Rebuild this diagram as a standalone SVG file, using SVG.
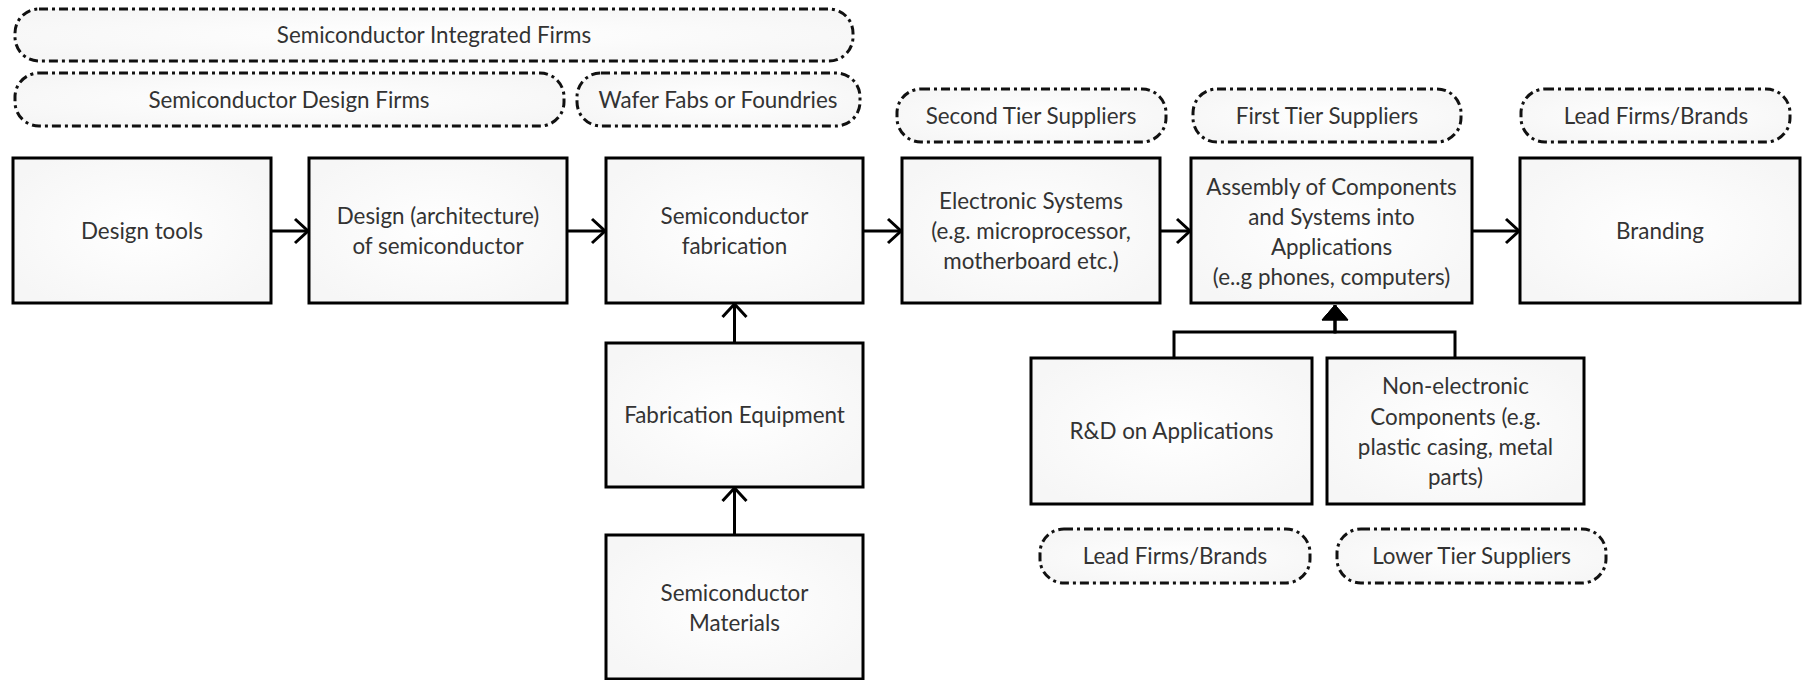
<svg xmlns="http://www.w3.org/2000/svg" width="1807" height="680" viewBox="0 0 1807 680">
<defs>
<radialGradient id="bg" cx="50%" cy="50%" r="60%">
<stop offset="0" stop-color="#ffffff"/>
<stop offset="1" stop-color="#f6f6f6"/>
</radialGradient>
<marker id="open" markerUnits="userSpaceOnUse" viewBox="-16 -14 18 28" markerWidth="18" markerHeight="28" refX="0" refY="0" orient="auto">
<path d="M-13,-12 L0,0 L-13,12" fill="none" stroke="#000" stroke-width="3"/>
</marker>
<marker id="fill" markerUnits="userSpaceOnUse" viewBox="-16 -14 18 28" markerWidth="18" markerHeight="28" refX="0" refY="0" orient="auto">
<path d="M-15,-13 L0,0 L-15,13 Z" fill="#000" stroke="#000" stroke-width="1"/>
</marker>
<style>
.box{fill:url(#bg);stroke:#000;stroke-width:3}
.pill{fill:url(#bg);stroke:#111;stroke-width:3;stroke-dasharray:9 4 3 4}
.t{font-family:Lato,"Liberation Sans",sans-serif;font-size:22.4px;fill:#333;text-anchor:middle}
.c{fill:none;stroke:#000;stroke-width:3}
</style>
</defs>
<rect width="1807" height="680" fill="#fff"/>

<g id="pill-integrated"><rect class="pill" x="15" y="9" width="838" height="52" rx="24"/><text class="t" x="434" y="43">Semiconductor Integrated Firms</text></g>
<g id="pill-design-firms"><rect class="pill" x="15" y="73" width="549" height="53" rx="24"/><text class="t" x="289" y="108">Semiconductor Design Firms</text></g>
<g id="pill-wafer"><rect class="pill" x="577" y="73" width="283" height="53" rx="24"/><text class="t" x="718" y="108">Wafer Fabs or Foundries</text></g>
<g id="pill-second-tier"><rect class="pill" x="897" y="89" width="269" height="53" rx="24"/><text class="t" x="1031" y="124">Second Tier Suppliers</text></g>
<g id="pill-first-tier"><rect class="pill" x="1193" y="89" width="268" height="53" rx="24"/><text class="t" x="1327" y="124">First Tier Suppliers</text></g>
<g id="pill-lead-top"><rect class="pill" x="1521" y="89" width="269" height="53" rx="24"/><text class="t" x="1656" y="124">Lead Firms/Brands</text></g>

<g id="design-tools"><rect class="box" x="13" y="158" width="258" height="145"/><text class="t" x="142" y="239">Design tools</text></g>
<g id="design-arch"><rect class="box" x="309" y="158" width="258" height="145"/><text class="t" x="438" y="224">Design (architecture)</text><text class="t" x="438" y="254">of semiconductor</text></g>
<g id="fabrication"><rect class="box" x="606" y="158" width="257" height="145"/><text class="t" x="734.5" y="224">Semiconductor</text><text class="t" x="734.5" y="254">fabrication</text></g>
<g id="electronic"><rect class="box" x="902" y="158" width="258" height="145"/><text class="t" x="1031" y="209">Electronic Systems</text><text class="t" x="1031" y="239">(e.g. microprocessor,</text><text class="t" x="1031" y="269">motherboard etc.)</text></g>
<g id="assembly"><rect class="box" x="1191" y="158" width="281" height="145"/><text class="t" x="1331.5" y="195">Assembly of Components</text><text class="t" x="1331.5" y="225">and Systems into</text><text class="t" x="1331.5" y="255">Applications</text><text class="t" x="1331.5" y="285">(e..g phones, computers)</text></g>
<g id="branding"><rect class="box" x="1520" y="158" width="280" height="145"/><text class="t" x="1660" y="239">Branding</text></g>
<g id="fab-equipment"><rect class="box" x="606" y="343" width="257" height="144"/><text class="t" x="734.5" y="423">Fabrication Equipment</text></g>
<g id="materials"><rect class="box" x="606" y="535" width="257" height="144"/><text class="t" x="734.5" y="601">Semiconductor</text><text class="t" x="734.5" y="631">Materials</text></g>
<g id="rnd"><rect class="box" x="1031" y="358" width="281" height="146"/><text class="t" x="1171.5" y="439">R&amp;D on Applications</text></g>
<g id="non-electronic"><rect class="box" x="1327" y="358" width="257" height="146"/><text class="t" x="1455.5" y="394">Non-electronic</text><text class="t" x="1455.5" y="425">Components (e.g.</text><text class="t" x="1455.5" y="455">plastic casing, metal</text><text class="t" x="1455.5" y="485">parts)</text></g>
<g id="pill-lead-bottom"><rect class="pill" x="1040" y="529" width="270" height="54" rx="24"/><text class="t" x="1175" y="564">Lead Firms/Brands</text></g>
<g id="pill-lower-tier"><rect class="pill" x="1337" y="529" width="269" height="54" rx="24"/><text class="t" x="1471.5" y="564">Lower Tier Suppliers</text></g>

<g id="connectors">
<path class="c" d="M271,231 H308" marker-end="url(#open)"/>
<path class="c" d="M567,231 H605" marker-end="url(#open)"/>
<path class="c" d="M863,231 H901" marker-end="url(#open)"/>
<path class="c" d="M1160,231 H1190" marker-end="url(#open)"/>
<path class="c" d="M1472,231 H1519" marker-end="url(#open)"/>
<path class="c" d="M734.5,343 V304" marker-end="url(#open)"/>
<path class="c" d="M734.5,535 V488" marker-end="url(#open)"/>
<path class="c" d="M1174,358 V332 H1335 V305" marker-end="url(#fill)"/>
<path class="c" d="M1455,358 V332 H1335 V305" marker-end="url(#fill)"/>
</g>
</svg>
